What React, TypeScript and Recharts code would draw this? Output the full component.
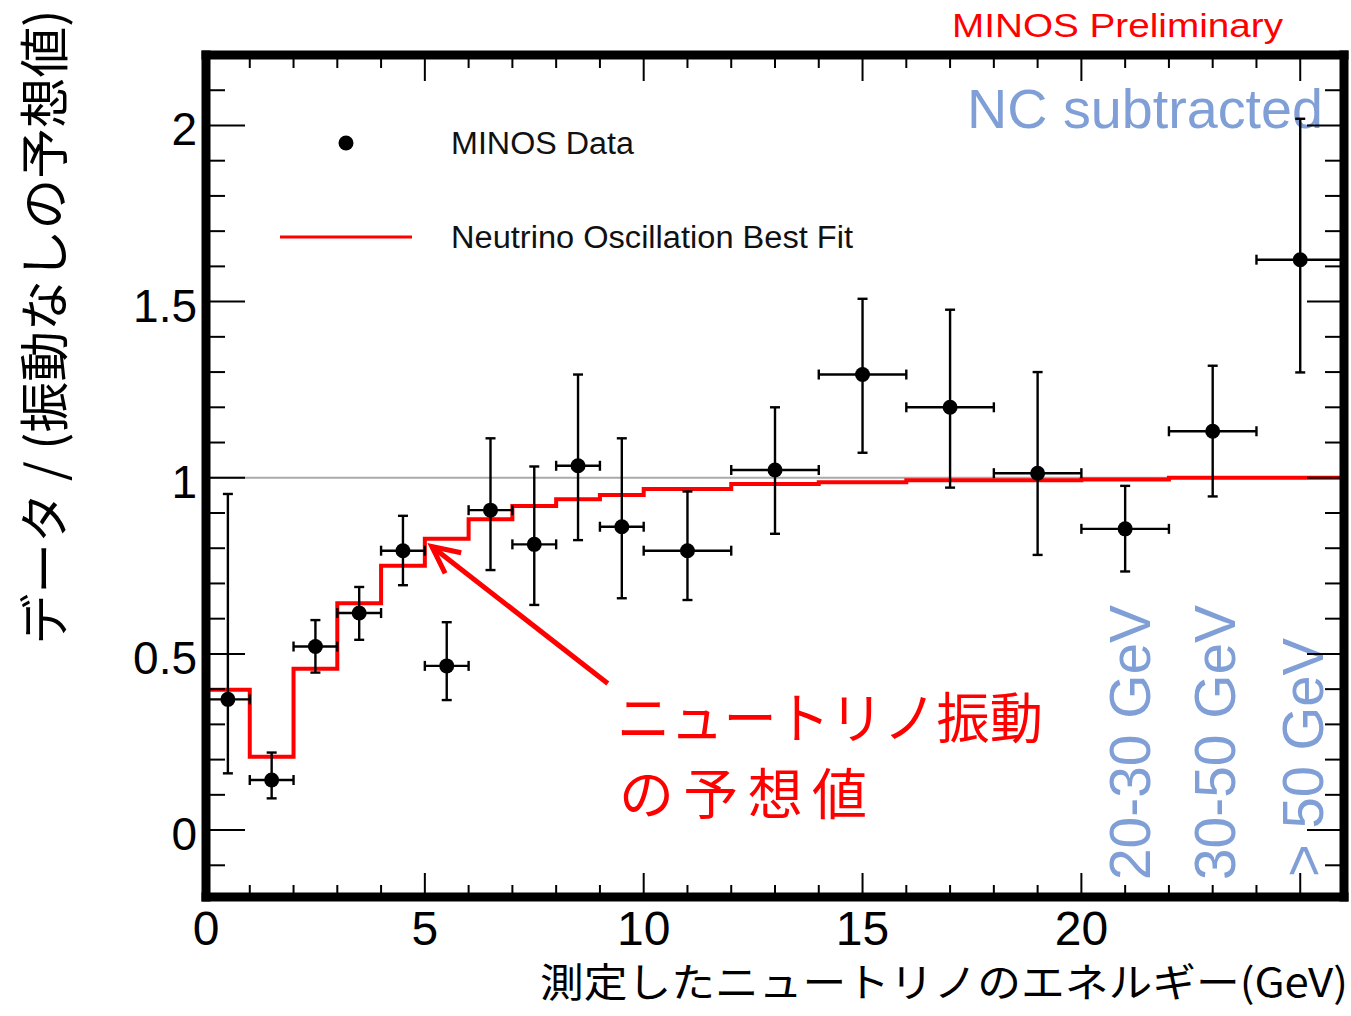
import React from 'react';
import {
  ComposedChart,
  Line,
  Scatter,
  XAxis,
  YAxis,
  ErrorBar,
  ReferenceLine,
  Legend,
  Customized,
} from 'recharts';

// ---- data ----
const fitEdges = [0, 1, 2, 3, 4, 5, 6, 7, 8, 9, 10, 12, 14, 16, 18, 20, 22, 26];
const fitValues = [0.398, 0.208, 0.458, 0.644, 0.75, 0.827, 0.882, 0.92, 0.939, 0.951, 0.968, 0.982, 0.987, 0.993, 0.993, 0.995, 1.0, 1.0];

const dataX = [0.5, 1.5, 2.5, 3.5, 4.5, 5.5, 6.5, 7.5, 8.5, 9.5, 11, 13, 15, 17, 19, 21, 23, 25];
const dataXErr = [0.5, 0.5, 0.5, 0.5, 0.5, 0.5, 0.5, 0.5, 0.5, 0.5, 1, 1, 1, 1, 1, 1, 1, 1];
const dataY = [0.371, 0.142, 0.521, 0.616, 0.793, 0.466, 0.908, 0.811, 1.034, 0.861, 0.793, 1.022, 1.293, 1.2, 1.013, 0.855, 1.132, 1.619];
const dataYHigh = [0.954, 0.22, 0.596, 0.69, 0.892, 0.59, 1.112, 1.032, 1.293, 1.112, 0.961, 1.2, 1.508, 1.477, 1.3, 0.977, 1.318, 2.019];
const dataYLow = [0.161, 0.09, 0.447, 0.54, 0.695, 0.369, 0.738, 0.639, 0.823, 0.658, 0.653, 0.841, 1.071, 0.972, 0.781, 0.734, 0.947, 1.299];

const xTicks = [0, 1, 2, 3, 4, 5, 6, 7, 8, 9, 10, 11, 12, 13, 14, 15, 16, 17, 18, 19, 20, 21, 22, 23, 24, 25];
const xMajorLabels = [0, 5, 10, 15, 20, 25];
const yTicks = [-0.1, 0, 0.1, 0.2, 0.3, 0.4, 0.5, 0.6, 0.7, 0.8, 0.9, 1, 1.1, 1.2, 1.3, 1.4, 1.5, 1.6, 1.7, 1.8, 1.9, 2, 2.1];
const yMajorLabels = ['0', '0.5', '1', '1.5', '2'];

const arrowFrom = { x: 9.18, y: 0.416 };
const arrowTo = { x: 5.16, y: 0.805 };

const fitData = fitEdges.map((x, i) => ({ x, fit: fitValues[i] }));
const pointData = dataX.map((x, i) => ({
  x,
  y: dataY[i],
  ex: dataXErr[i],
  ey: [dataY[i] - dataYLow[i], dataYHigh[i] - dataY[i]],
}));

const SANS = '"Liberation Sans", Arial, Helvetica, sans-serif';
const CJK = '"Noto Sans CJK JP", "Liberation Sans", sans-serif';
const BLUE = '#7f9fd6';
const RED = '#ff0000';

const isMajorX = (v: number) => xMajorLabels.includes(v);
const isMajorY = (v: number) => yMajorLabels.includes(String(v));

const BottomTick = (props: any) => {
  const { x, y, payload } = props;
  const v = payload.value;
  const major = isMajorX(v);
  return (
    <g>
      <line x1={x} x2={x} y1={y} y2={y - (major ? 24 : 12)} stroke="#000" strokeWidth={2} />
      {major && v !== 25 && (
        <text x={x} y={y + 48} textAnchor="middle" fontSize={48} fontFamily={SANS} fill="#000">
          {v}
        </text>
      )}
    </g>
  );
};

const TopTick = (props: any) => {
  const { x, y, payload } = props;
  const major = isMajorX(payload.value);
  return <line x1={x} x2={x} y1={y} y2={y + (major ? 26 : 13)} stroke="#000" strokeWidth={2} />;
};

const LeftTick = (props: any) => {
  const { x, y, payload } = props;
  const v = payload.value;
  const major = isMajorY(v);
  return (
    <g>
      <line x1={x} x2={x + (major ? 39 : 19)} y1={y} y2={y} stroke="#000" strokeWidth={2} />
      {major && (
        <text x={x - 9} y={y + 20} textAnchor="end" fontSize={46} fontFamily={SANS} fill="#000">
          {String(v)}
        </text>
      )}
    </g>
  );
};

const RightTick = (props: any) => {
  const { x, y, payload } = props;
  const major = isMajorY(payload.value);
  return <line x1={x} x2={x - (major ? 37 : 19)} y1={y} y2={y} stroke="#000" strokeWidth={2} />;
};

const ArrowShape = (props: any) => {
  const { x1, y1, x2, y2 } = props;
  const ang = Math.atan2(y1 - y2, x1 - x2);
  const len = 30;
  const spread = 0.45;
  const ax = x2 + len * Math.cos(ang + spread);
  const ay = y2 + len * Math.sin(ang + spread);
  const bx = x2 + len * Math.cos(ang - spread);
  const by = y2 + len * Math.sin(ang - spread);
  return (
    <g>
      <line x1={x1} y1={y1} x2={x2} y2={y2} stroke={RED} strokeWidth={5} />
      <polyline points={`${ax},${ay} ${x2},${y2} ${bx},${by}`} fill="none" stroke={RED} strokeWidth={5} strokeLinejoin="miter" />
    </g>
  );
};

const renderLegend = () => (
  <svg width={640} height={160} style={{ display: 'block', overflow: 'visible' }}>
    <circle cx={76} cy={33} r={7.5} fill="#000" />
    <text x={181} y={44} fontSize={31} fontFamily={SANS} fill="#111" textLength={183} lengthAdjust="spacingAndGlyphs">
      MINOS Data
    </text>
    <line x1={10} x2={142} y1={127} y2={127} stroke={RED} strokeWidth={3} />
    <text x={181} y={138} fontSize={31} fontFamily={SANS} fill="#111" textLength={402} lengthAdjust="spacingAndGlyphs">
      Neutrino Oscillation Best Fit
    </text>
  </svg>
);

const Texts = () => (
  <g>
    <text x={952} y={37} fontSize={34} fontFamily={SANS} fill={RED} textLength={331} lengthAdjust="spacingAndGlyphs">
      MINOS Preliminary
    </text>
    <text x={967} y={128} fontSize={55} fontFamily={SANS} fill={BLUE} textLength={356} lengthAdjust="spacingAndGlyphs">
      NC subtracted
    </text>
    <text transform="translate(1150,880) rotate(-90)" fontSize={58} fontFamily={SANS} fill={BLUE} textLength={275} lengthAdjust="spacingAndGlyphs">
      20-30 GeV
    </text>
    <text transform="translate(1235,880) rotate(-90)" fontSize={58} fontFamily={SANS} fill={BLUE} textLength={275} lengthAdjust="spacingAndGlyphs">
      30-50 GeV
    </text>
    <text transform="translate(1323,877) rotate(-90)" fontSize={58} fontFamily={SANS} fill={BLUE} textLength={239} lengthAdjust="spacingAndGlyphs">
      {'> 50 GeV'}
    </text>
    <text x={617} y={738} fontSize={55} fontFamily={CJK} fill={RED} textLength={426} lengthAdjust="spacingAndGlyphs">
      ニュートリノ振動
    </text>
    <text x={619} y={814} fontSize={55} fontFamily={CJK} fill={RED} textLength={248} lengthAdjust="spacing">
      の予想値
    </text>
    <text transform="translate(63,327) rotate(-90)" textAnchor="middle" fontSize={50} fontFamily={CJK} fill="#000" textLength={635} lengthAdjust="spacingAndGlyphs">
      データ / (振動なしの予想値)
    </text>
    <text x={1348} y={997} textAnchor="end" fontSize={40} fontFamily={CJK} fill="#000" textLength={808} lengthAdjust="spacingAndGlyphs">
      測定したニュートリノのエネルギー(GeV)
    </text>
  </g>
);

const frameLine = { stroke: '#000', strokeWidth: 9, strokeLinecap: 'square' as const };

export default function App() {
  return (
    <div style={{ position: 'absolute', left: 0, top: 0, width: 1351, height: 1016, background: '#fff' }}>
      <ComposedChart
        width={1351}
        height={1016}
        margin={{ top: 50, right: 2, bottom: 59, left: 126 }}
        style={{ background: '#fff' }}
      >
        <XAxis
          type="number"
          dataKey="x"
          domain={[0, 26]}
          ticks={xTicks}
          interval={0}
          allowDataOverflow
          orientation="bottom"
          height={60}
          tickSize={0}
          tickMargin={0}
          tickLine={false}
          axisLine={frameLine}
          tick={<BottomTick />}
        />
        <XAxis
          xAxisId="top"
          type="number"
          dataKey="x"
          domain={[0, 26]}
          ticks={xTicks}
          interval={0}
          allowDataOverflow
          orientation="top"
          height={5}
          tickSize={0}
          tickMargin={0}
          tickLine={false}
          axisLine={frameLine}
          tick={<TopTick />}
        />
        <YAxis
          type="number"
          dataKey="y"
          domain={[-0.19, 2.2]}
          ticks={yTicks}
          interval={0}
          allowDataOverflow
          width={80}
          tickSize={0}
          tickMargin={0}
          tickLine={false}
          axisLine={frameLine}
          tick={<LeftTick />}
        />
        <YAxis
          yAxisId="right"
          orientation="right"
          type="number"
          domain={[-0.19, 2.2]}
          ticks={yTicks}
          interval={0}
          allowDataOverflow
          width={5}
          tickSize={0}
          tickMargin={0}
          tickLine={false}
          axisLine={frameLine}
          tick={<RightTick />}
        />
        <ReferenceLine y={1} stroke="#aaaaaa" strokeWidth={2} />
        <Line
          data={fitData}
          dataKey="fit"
          type="stepAfter"
          stroke={RED}
          strokeWidth={4}
          dot={false}
          activeDot={false}
          isAnimationActive={false}
          legendType="line"
        />
        <Scatter
          data={pointData}
          dataKey="y"
          fill="#000"
          isAnimationActive={false}
          shape={(p: any) => <circle cx={p.cx} cy={p.cy} r={7.5} fill="#000" />}
        >
          <ErrorBar dataKey="ey" direction="y" width={5} stroke="#000" strokeWidth={2.4} isAnimationActive={false} />
          <ErrorBar dataKey="ex" direction="x" width={5} stroke="#000" strokeWidth={2.4} isAnimationActive={false} />
        </Scatter>
        <ReferenceLine
          segment={[arrowFrom, arrowTo]}
          stroke={RED}
          strokeWidth={5}
          shape={<ArrowShape />}
        />
        <Legend
          layout="horizontal"
          verticalAlign="middle"
          align="center"
          content={renderLegend}
          wrapperStyle={{ left: 270, top: 110, width: 640, height: 160 }}
        />
        <Customized component={<Texts />} />
      </ComposedChart>
    </div>
  );
}
